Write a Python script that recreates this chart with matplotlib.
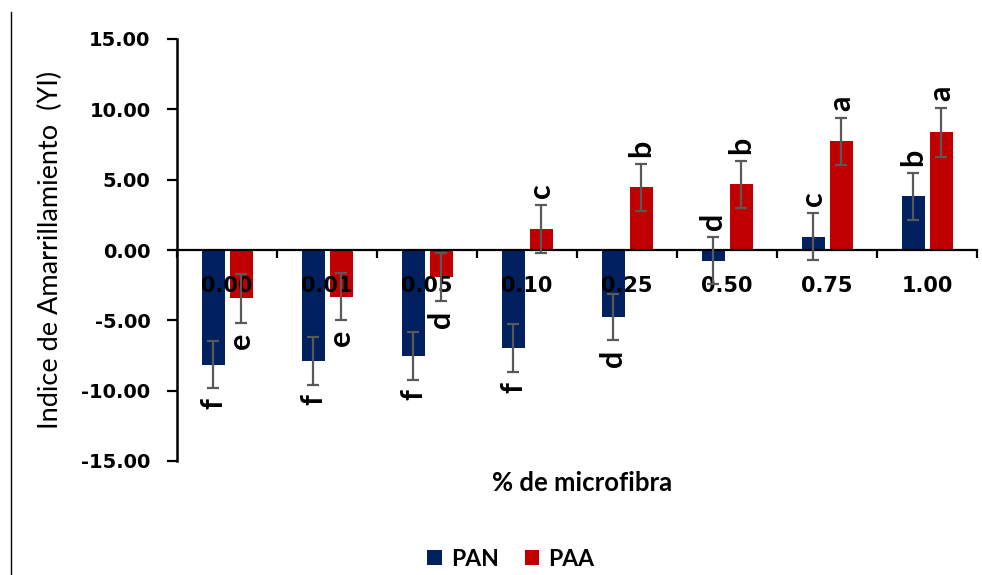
import numpy as np
import matplotlib
matplotlib.use("Agg")
import matplotlib.pyplot as plt
from matplotlib.lines import Line2D
from matplotlib.ticker import FixedLocator, NullFormatter

# data
categories = ["0.00", "0.01", "0.05", "0.10", "0.25", "0.50", "0.75", "1.00"]
pan = [-8.17, -7.90, -7.53, -6.97, -4.77, -0.76, 0.95, 3.81]
paa = [-3.43, -3.32, -1.90, 1.50, 4.45, 4.67, 7.72, 8.38]
pan_err = [1.67, 1.69, 1.68, 1.70, 1.62, 1.66, 1.66, 1.65]
paa_err = [1.74, 1.68, 1.71, 1.70, 1.68, 1.68, 1.69, 1.74]
pan_letters = ["f", "f", "f", "f", "d", "d", "c", "b"]
paa_letters = ["e", "e", "d", "c", "b", "b", "a", "a"]
y_ticks = [-15, -10, -5, 0, 5, 10, 15]

c_pan = "#002060"
c_paa = "#C00000"
c_err = "#595959"

fig = plt.figure(figsize=(9.82, 5.75), dpi=100)
ax = fig.add_axes([177 / 982, 1 - 461 / 575, 800 / 982, 422 / 575])

x = np.arange(len(categories)) + 0.5
w = 0.23
off = 0.14

ekw = dict(ecolor=c_err, elinewidth=1.6, capsize=4, capthick=1.6, zorder=4)
ax.bar(x - off, pan, w, color=c_pan, yerr=pan_err, error_kw=ekw, label="PAN", zorder=2)
ax.bar(x + off, paa, w, color=c_paa, yerr=paa_err, error_kw=ekw, label="PAA", zorder=2)

# significance letters: beyond the upper cap if it is above zero, else below the lower cap
for xs, vals, errs, letters in [(x - off, pan, pan_err, pan_letters),
                                (x + off, paa, paa_err, paa_letters)]:
    for xi, v, e, t in zip(xs, vals, errs, letters):
        if v + e > 0:
            ax.annotate(t, (xi, v + e), xytext=(0, 5), textcoords="offset points",
                        rotation=90, ha="center", va="bottom", fontsize=22,
                        fontweight="bold", family="Lato", zorder=5)
        else:
            ax.annotate(t, (xi, v - e), xytext=(0, -7), textcoords="offset points",
                        rotation=90, ha="center", va="top", fontsize=22,
                        fontweight="bold", family="Lato", zorder=5)

ax.set_xlim(0, len(categories))
ax.set_ylim(-15, 15)
ax.set_axisbelow(False)

ax.spines["top"].set_visible(False)
ax.spines["right"].set_visible(False)
ax.spines["bottom"].set_position(("data", 0))
ax.spines["bottom"].set_linewidth(1.6)
ax.spines["left"].set_linewidth(1.8)

ax.set_yticks(y_ticks)
ax.set_yticklabels([f"{v:.2f}" for v in y_ticks], fontsize=14, fontweight="bold")
ax.tick_params(axis="y", direction="out", length=7, width=1.6, pad=12)

ax.xaxis.set_major_locator(FixedLocator(np.arange(len(categories) + 1)))
ax.xaxis.set_major_formatter(NullFormatter())
ax.xaxis.set_minor_locator(FixedLocator(x))
ax.set_xticklabels(categories, minor=True, fontsize=15, fontweight="bold")
ax.tick_params(axis="x", which="major", direction="out", length=5.5, width=1.6)
ax.tick_params(axis="x", which="minor", length=0, pad=19)

ax.set_ylabel("Indice de Amarrillamiento  (YI)", fontsize=19.5, family="Lato")
ax.yaxis.set_label_coords(-0.1425, 0.5)

fig.text(582 / 982, 1 - 483 / 575, "% de microfibra", ha="center", va="center",
         fontsize=18.5, fontweight="bold", family="Lato")

fig.legend(loc="center", bbox_to_anchor=(511 / 982, 1 - 559 / 575), ncol=2,
           frameon=False, handlelength=0.65, handleheight=0.65, handletextpad=0.4,
           columnspacing=1.1, prop={"family": "Lato", "weight": "bold", "size": 16.5})

fig.add_artist(Line2D([11 / 982, 11 / 982], [0, 1 - 12 / 575], color="black", lw=1))

fig.savefig("out.png", dpi=100)
